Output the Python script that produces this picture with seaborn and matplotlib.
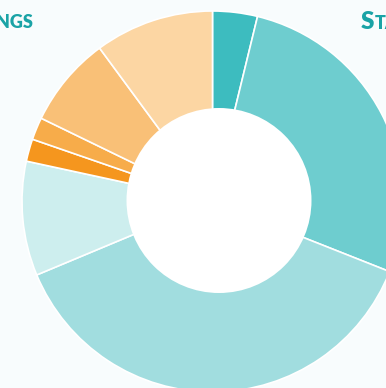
import matplotlib
matplotlib.use("Agg")
import matplotlib.pyplot as plt
from matplotlib.patches import Circle
import seaborn as sns

# Data (clockwise from 12 o'clock), shares in percent
categories = ["Teal 1", "Teal 2", "Teal 3", "Teal 4",
              "Orange 1", "Orange 2", "Orange 3", "Orange 4"]
values = [3.8, 27.2, 37.7, 9.7, 1.9, 1.9, 7.7, 10.1]
colors = ["#3dbcbf", "#6ecdcf", "#a1dddf", "#cdeeee",
          "#f5961e", "#f7ac4a", "#f9c077", "#fcd6a3"]
left_title = "SAVINGS"
right_title_cap = "S"
right_title_rest = "TATE"

sns.set_theme(style="white")
plt.rcParams['font.family'] = ['Lato', 'DejaVu Sans']

BG = "#f8fcfd"
W, H = 386, 388
fig = plt.figure(figsize=(W / 100, H / 100), dpi=100, facecolor=BG)
ax = fig.add_axes([0, 0, 1, 1])
ax.set_facecolor(BG)

# geometry in pixels
cx, cy, R = 212.5, 201.5, 190.5
hx, hy, hr = 219.0, 200.5, 92.5

wedges, _ = ax.pie(values, colors=colors, startangle=90, counterclock=False,
                   radius=1.0, center=(0, 0),
                   wedgeprops=dict(edgecolor="white", linewidth=1.2))

hole = Circle(((hx - cx) / R, (cy - hy) / R), hr / R,
              facecolor="white", edgecolor="none", zorder=5)
ax.add_patch(hole)

ax.set_aspect("auto")
ax.set_xlim(-cx / R, (W - cx) / R)
ax.set_ylim((cy - H) / R, cy / R)
ax.axis("off")

teal = "#1aa3a6"
fig.text(33.5 / W, 1 - 28.5 / H, left_title, ha="right", va="baseline",
         fontsize=13, fontweight="heavy", color=teal)
fig.text(361 / W, 1 - 29 / H, right_title_cap, ha="left", va="baseline",
         fontsize=17.5, fontweight="heavy", color=teal)
fig.text(374.5 / W, 1 - 29 / H, right_title_rest, ha="left", va="baseline",
         fontsize=13, fontweight="heavy", color=teal)

fig.savefig("out.png", dpi=100, facecolor=BG)
